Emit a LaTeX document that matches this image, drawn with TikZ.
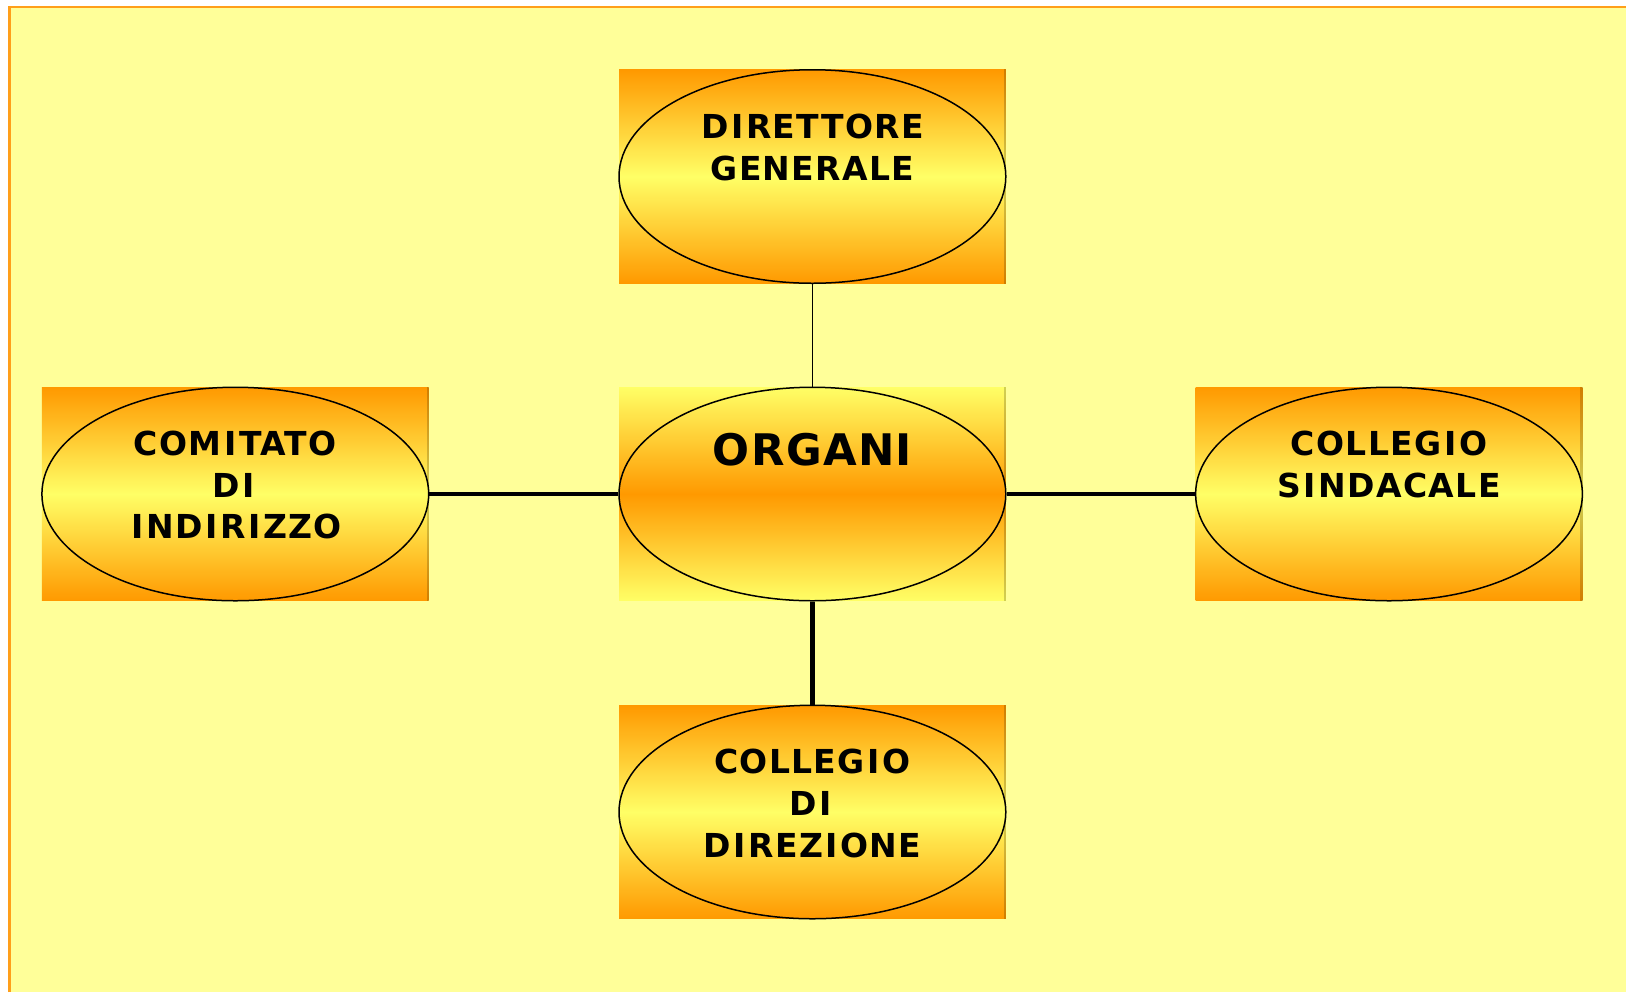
\documentclass[tikz,border=0pt]{standalone}
\usepackage{fontspec}
\usetikzlibrary{shapes.geometric}
\newfontfamily\lblfont{DejaVu Sans}[LetterSpace=4]
\newfontfamily\hubfont{DejaVu Sans}[LetterSpace=3]
% the capital I of this lettering sits in a wider cell
\newcommand\wI{\kern0.08em I\kern0.08em}
\definecolor{pagebg}{HTML}{FFFF99}
\definecolor{orng}{HTML}{FF9900}
\definecolor{yel}{HTML}{FFFF66}
\definecolor{framec}{HTML}{FF9F1A}
\begin{document}
\begin{tikzpicture}[x=0.5pt,y=-0.5pt,
  panel/.style={rectangle, inner sep=0pt, minimum width=193.4pt, minimum height=106.75pt,
    top color=orng, bottom color=orng, middle color=yel},
  hubpanel/.style={panel, top color=yel, bottom color=yel, middle color=orng},
  oval/.style={ellipse, draw=black, line width=0.75pt, inner sep=0pt,
    minimum width=193.4pt, minimum height=106.75pt,
    top color=orng, bottom color=orng, middle color=yel},
  huboval/.style={oval, top color=yel, bottom color=yel, middle color=orng},
  caption/.style={anchor=north, inner sep=0pt, align=center, text=black,
    font=\lblfont\bfseries\fontsize{16.5pt}{20.8pt}\selectfont},
  hubcaption/.style={caption, font=\hubfont\bfseries\fontsize{21.75pt}{26pt}\selectfont},
  thinlink/.style={line width=0.85pt, black},
  thicklink/.style={line width=2.25pt, black}]

% page
\useasboundingbox (0,0) rectangle (1626,992);
\fill[white] (0,0) rectangle (1626,992);
\fill[pagebg] (9.5,7) rectangle (1626,992);
\draw[framec, line width=1.3pt] (9.5,992) -- (9.5,7) -- (1626,7);

% panels behind the ovals
\node[panel]    (dgBox)  at (812.4,176.5) {};
\node[hubpanel] (orgBox) at (812.4,494)   {};
\node[panel]    (comBox) at (235.3,494)   {};
\node[panel]    (csBox)  at (1389,494)    {};
\node[panel]    (cddBox) at (812.4,812)   {};

% darker strip on the right side of each panel
\foreach \b in {dgBox,orgBox,comBox,csBox,cddBox}{
  \fill[black, opacity=0.18] ([xshift=-1.3pt]\b.north east) rectangle (\b.south east);
}

% ovals
\node[oval]    (dg)  at (dgBox.center)  {};
\node[huboval] (org) at (orgBox.center) {};
\node[oval]    (com) at (comBox.center) {};
\node[oval]    (cs)  at (csBox.center)  {};
\node[oval]    (cdd) at (cddBox.center) {};

% captions
\node[caption]    (dgText)  at (812.4,114) {D\wI RETTORE\\GENERALE};
\node[hubcaption] (orgText) at (812.4,433) {ORGANI};
\node[caption]    (comText) at (235.3,430.5) {COM\wI TATO\\D\wI\\\wI ND\wI R\wI ZZO};
\node[caption]    (csText)  at (1389,430.5)  {COLLEG\wI O\\S\wI NDACALE};
\node[caption]    (cddText) at (812.4,749) {COLLEG\wI O\\D\wI\\D\wI REZ\wI ONE};

% connectors
\draw[thinlink]  (dg.south) -- (org.north);
\draw[thicklink] (org.west) -- (com.east);
\draw[thicklink] (org.east) -- (cs.west);
\draw[thicklink] (org.south) -- (cdd.north);
\end{tikzpicture}
\end{document}
